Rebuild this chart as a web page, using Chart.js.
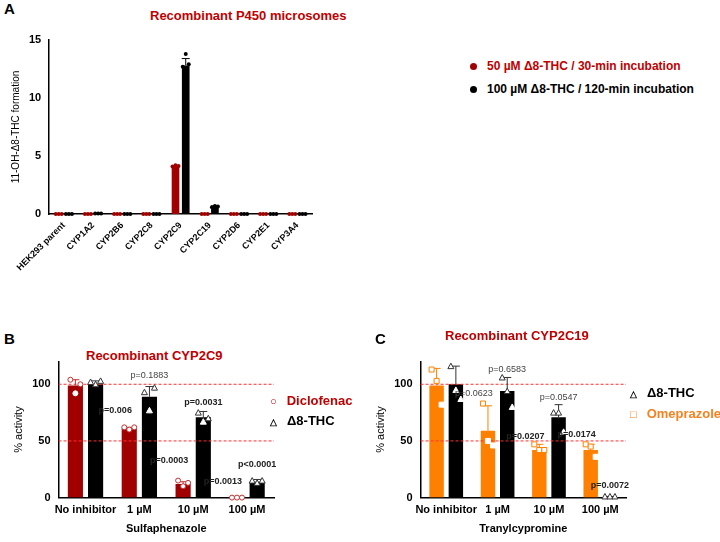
<!DOCTYPE html>
<html><head><meta charset="utf-8">
<script src="https://cdn.jsdelivr.net/npm/chart.js@4/dist/chart.umd.min.js"></script>
<style>
body{margin:0;background:#fff;font-family:"Liberation Sans",Arial,sans-serif;}
#wrap{position:relative;width:720px;height:542px;}
.abs{position:absolute;}
.lbl{font-weight:bold;font-size:15px;}
.ttl{color:#c00000;font-weight:bold;font-size:13px;}
.leg{font-weight:bold;font-size:12px;white-space:nowrap;}
.dot{display:inline-block;width:7px;height:7px;border-radius:50%;margin-right:10px;vertical-align:middle;}
</style></head><body>
<div id="wrap">
<div class="abs lbl" style="left:4px;top:0px">A</div>
<div class="abs ttl" style="left:150px;top:8px">Recombinant P450 microsomes</div>
<div class="abs leg" style="left:470px;top:59px;color:#c00000"><span class="dot" style="background:#a00000"></span>50 µM Δ8-THC / 30-min incubation</div>
<div class="abs leg" style="left:470px;top:82px;color:#000"><span class="dot" style="background:#000"></span>100 µM Δ8-THC / 120-min incubation</div>
<div class="abs" style="left:0;top:30px;width:320px;height:245px"><canvas id="cA"></canvas></div>

<div class="abs lbl" style="left:4px;top:330px">B</div>
<div class="abs ttl" style="left:86px;top:348px">Recombinant CYP2C9</div>
<div class="abs" style="left:0;top:352px;width:280px;height:188px"><canvas id="cB"></canvas></div>
<div class="abs leg" style="left:270px;top:393px;color:#c00000;font-size:13px"><span style="color:#c00000;font-size:11px;margin-right:10px">○</span>Diclofenac</div>
<div class="abs leg" style="left:270px;top:413px;font-size:13px"><span style="font-size:9px;margin-right:10px">△</span>Δ8-THC</div>

<div class="abs lbl" style="left:375px;top:330px">C</div>
<div class="abs ttl" style="left:445px;top:328px">Recombinant CYP2C19</div>
<div class="abs" style="left:362px;top:352px;width:270px;height:188px"><canvas id="cC"></canvas></div>
<div class="abs leg" style="left:630px;top:385px;font-size:13px"><span style="font-size:9px;margin-right:10px">△</span>Δ8-THC</div>
<div class="abs leg" style="left:630px;top:406px;color:#f58220;font-size:13px"><span style="font-size:11px;margin-right:10px">□</span>Omeprazole</div>
</div>
<script>
const RED = '#a00000', BLACK = '#000000', ORANGE = '#ff8000';

// Panel A
const enzymes = ['HEK293 parent','CYP1A2','CYP2B6','CYP2C8','CYP2C9','CYP2C19','CYP2D6','CYP2E1','CYP3A4'];
const a30 = [0, 0, 0, 0, 4.15, 0, 0, 0, 0];
const a120 = [0, 0.05, 0, 0, 12.8, 0.65, 0, 0, 0];
const a120sd = [0, 0, 0, 0, 0.6, 0.05, 0, 0, 0];
const a120pts = [[0,0,0],[0.05,0.05,0.05],[0,0,0],[0,0,0],[12.7,13.8,12.9],[0.6,0.7,0.65],[0,0,0],[0,0,0],[0,0,0]];
const a30pts = [[0,0,0],[0,0,0],[0,0,0],[0,0,0],[4.1,4.2,4.15],[0,0,0],[0,0,0],[0,0,0],[0,0,0]];
const aTicks = [0, 5, 10, 15];

// Panels B, C
const doses = ['No inhibitor','1 µM','10 µM','100 µM'];
const pctTicks = [0, 50, 100];
const diclo = [99, 61, 12, 0];
const dicloSd = [5, 1, 2, 0];
const dicloPts = [[104,92,100],[62,60,62],[15,10,13],[0,0,0]];
const thcB = [100, 89, 71, 14];
const thcBSd = [3, 9, 5, 2];
const thcBPts = [[102,100,103],[93,77,97],[75,67,70],[15,13,15]];
const pB = [[1,1,'p=0.1883',108,false],[0,1,'p=0.006',77,true],[1,2,'p=0.0031',84,true],[0,2,'p=0.0003',33,true],[1,3,'p<0.0001',29,true],[0,3,'p=0.0013',14,true]];

const omep = [99, 59, 42, 42];
const omepSd = [15, 22, 5, 5];
const omepPts = [[113,103,82],[83,50,46],[47,42,42],[47,45,36]];
const thcC = [100, 94, 71, 0.5];
const thcCSd = [16, 12, 11, 0.5];
const thcCPts = [[116,95,87],[106,94,80],[75,75,58],[1,1,1]];
const pC = [[1,1,'p=0.6583',113,false],[0,1,'p=0.0623',92,false],[1,2,'p=0.0547',88,false],[0,2,'p=0.0207',54,true],[0,3,'p=0.0174',56,true],[1,3,'p=0.0072',11,true]];

function marker(ctx, shape, x, y, color, filled, r) {
  ctx.save();
  ctx.strokeStyle = color; ctx.fillStyle = color; ctx.lineWidth = 1;
  ctx.beginPath();
  if (shape === 'circle') ctx.arc(x, y, r, 0, Math.PI * 2);
  else if (shape === 'tri') { ctx.moveTo(x, y - 3); ctx.lineTo(x + 3, y + 2.5); ctx.lineTo(x - 3, y + 2.5); ctx.closePath(); }
  else ctx.rect(x - 2.5, y - 2.5, 5, 5);
  if (filled) ctx.fill(); else { ctx.fillStyle = '#fff'; ctx.fill(); ctx.stroke(); }
  ctx.restore();
}

const overlay = {
  id: 'overlay',
  afterDatasetsDraw(chart, args, o) {
    const ctx = chart.ctx, ys = chart.scales.y;
    if (o.refLines) {
      ctx.save(); ctx.strokeStyle = '#ff3030'; ctx.setLineDash([3, 2]); ctx.lineWidth = 1;
      o.refLines.forEach(v => {
        const y = ys.getPixelForValue(v);
        ctx.beginPath(); ctx.moveTo(chart.chartArea.left, y); ctx.lineTo(chart.chartArea.right, y); ctx.stroke();
      });
      ctx.restore();
    }
    const offs = o.jitter || [-5, 0, 5];
    o.series.forEach((s, di) => {
      const meta = chart.getDatasetMeta(di);
      meta.data.forEach((bar, i) => {
        const m = chart.data.datasets[di].data[i];
        if (s.sd && s.sd[i]) {
          const y1 = ys.getPixelForValue(m + s.sd[i]);
          ctx.save(); ctx.strokeStyle = s.color; ctx.lineWidth = 1;
          ctx.beginPath(); ctx.moveTo(bar.x, ys.getPixelForValue(m)); ctx.lineTo(bar.x, y1);
          ctx.moveTo(bar.x - 4, y1); ctx.lineTo(bar.x + 4, y1); ctx.stroke(); ctx.restore();
        }
        s.pts[i].forEach((v, k) => {
          const y = ys.getPixelForValue(v);
          const inside = !s.filled && v < m - 3 && v > 0;
          marker(ctx, s.shape, bar.x + offs[k], y, inside ? '#fff' : s.color, s.filled, s.r || 2.5);
        });
      });
    });
    if (o.pvals) {
      ctx.save(); ctx.textAlign = 'center'; ctx.textBaseline = 'middle';
      o.pvals.forEach(([di, i, t, v, bold]) => {
        const bar = chart.getDatasetMeta(di).data[i];
        ctx.font = (bold ? 'bold ' : '') + '9px "Liberation Sans"';
        ctx.fillStyle = bold ? '#222' : '#444';
        const dx = di === 0 ? -14 : 0;
        ctx.fillText(t, bar.x + dx, ys.getPixelForValue(v));
      });
      ctx.restore();
    }
  }
};

Chart.defaults.font.family = '"Liberation Sans", Arial, sans-serif';
Chart.defaults.color = '#000';

function axes(yMax, tickList, yTitle, xTitle, rot, xFont, yTitleSize) {
  return {
    x: {
      grid: { display: false, tickLength: 4 },
      border: { color: '#000', width: 1.5 },
      ticks: { autoSkip: false, maxRotation: rot, minRotation: rot, font: { size: xFont, weight: 'bold' }, padding: 2 },
      title: xTitle ? { display: true, text: xTitle, font: { size: 11, weight: 'bold' }, padding: { top: 4 } } : { display: false }
    },
    y: {
      min: 0, max: yMax,
      grid: { display: false, tickLength: 5 },
      border: { color: '#000', width: 1.5 },
      afterBuildTicks: sc => { sc.ticks = tickList.map(v => ({ value: v })); },
      ticks: { autoSkip: false, font: { size: 11, weight: 'bold' } },
      title: { display: true, text: yTitle, font: { size: yTitleSize } }
    }
  };
}

new Chart(document.getElementById('cA'), {
  type: 'bar',
  data: { labels: enzymes, datasets: [
    { data: a30, backgroundColor: RED, categoryPercentage: 0.7, barPercentage: 0.75 },
    { data: a120, backgroundColor: BLACK, categoryPercentage: 0.7, barPercentage: 0.75 }
  ]},
  options: {
    responsive: true, maintainAspectRatio: false, animation: false,
    layout: { padding: { left: 6, right: 8, top: 10 } },
    plugins: { legend: { display: false }, tooltip: { enabled: false },
      overlay: { jitter: [-3, 0, 3], series: [
        { pts: a30pts, color: RED, shape: 'circle', filled: true, r: 2 },
        { pts: a120pts, sd: a120sd, color: BLACK, shape: 'circle', filled: true, r: 2 }
      ]}},
    scales: axes(15, aTicks, '11-OH-Δ8-THC formation', null, 45, 9, 10)
  },
  plugins: [overlay]
});

function panel(id, s0, s1, pvals) {
  new Chart(document.getElementById(id), {
    type: 'bar',
    data: { labels: doses, datasets: [
      { data: s0.data, backgroundColor: s0.fill, categoryPercentage: 0.75, barPercentage: 0.75 },
      { data: s1.data, backgroundColor: BLACK, categoryPercentage: 0.75, barPercentage: 0.75 }
    ]},
    options: {
      responsive: true, maintainAspectRatio: false, animation: false,
      layout: { padding: { left: 8, right: 6, top: 6 } },
      plugins: { legend: { display: false }, tooltip: { enabled: false },
        overlay: { refLines: [50, 100], pvals: pvals, series: [
          { pts: s0.pts, sd: s0.sd, color: s0.mark, shape: s0.shape, filled: false },
          { pts: s1.pts, sd: s1.sd, color: '#333', shape: 'tri', filled: false }
        ]}},
      scales: axes(120, pctTicks, '% activity', id === 'cB' ? 'Sulfaphenazole' : 'Tranylcypromine', 0, 11, 11)
    },
    plugins: [overlay]
  });
}

panel('cB', { data: diclo, sd: dicloSd, pts: dicloPts, fill: RED, mark: '#c03030', shape: 'circle' },
  { data: thcB, sd: thcBSd, pts: thcBPts }, pB);
panel('cC', { data: omep, sd: omepSd, pts: omepPts, fill: ORANGE, mark: ORANGE, shape: 'square' },
  { data: thcC, sd: thcCSd, pts: thcCPts }, pC);
</script>
</body></html>
